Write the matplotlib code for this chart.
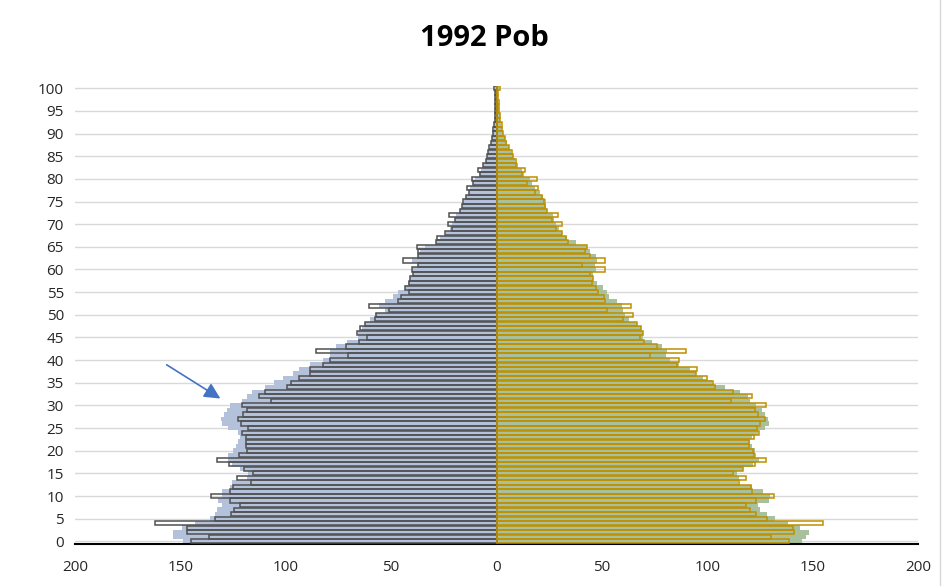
import matplotlib
matplotlib.use("Agg")
import matplotlib.pyplot as plt
import numpy as np

plt.rcParams['font.family'] = ['Open Sans', 'DejaVu Sans']

ages = np.arange(0, 101)

# males, census (outlined bars, left side)
male_census = [
    145.1, 136.3, 147.0, 146.7, 162.0, 133.6, 126.1, 124.6, 121.7, 126.5,
    135.5, 126.5, 124.9, 116.5, 123.3, 115.7, 119.8, 126.8, 132.8, 122.0,
    118.5, 118.9, 118.9, 118.9, 120.9, 118.1, 121.4, 122.5, 120.4, 118.5,
    120.9, 107.2, 112.5, 109.8, 99.6, 97.5, 93.6, 88.5, 88.5, 82.5,
    79.0, 70.6, 85.6, 71.6, 65.4, 61.3, 66.3, 64.8, 62.4, 57.7,
    57.2, 51.0, 60.5, 46.9, 45.5, 41.4, 43.4, 41.4, 41.0, 39.5,
    40.2, 37.1, 44.5, 37.1, 37.1, 37.6, 28.7, 28.4, 24.4, 21.3,
    22.9, 19.8, 22.4, 17.4, 16.6, 16.1, 14.5, 12.9, 13.8, 11.0,
    11.8, 7.8, 8.6, 6.2, 5.0, 4.7, 3.9, 3.4, 2.8, 2.3,
    1.8, 1.5, 1.2, 0.8, 0.8, 0.7, 0.7, 0.7, 0.7, 0.7,
    1.2,
]

# males, estimate (filled bars, left side)
male_est = [
    148.6, 153.6, 153.6, 149.4, 143.1, 135.9, 133.6, 132.8, 130.4, 132.0,
    130.4, 130.4, 126.5, 125.7, 118.5, 117.8, 121.7, 125.7, 127.2, 127.2,
    124.9, 123.6, 122.5, 121.7, 122.5, 127.2, 130.4, 130.9, 129.3, 128.0,
    126.5, 120.9, 118.5, 116.2, 109.8, 105.6, 101.4, 96.4, 93.6, 88.5,
    82.2, 79.0, 79.0, 76.1, 71.0, 65.6, 65.6, 64.0, 62.4, 60.0,
    57.7, 52.9, 55.6, 52.9, 49.0, 46.6, 43.4, 41.8, 41.0, 39.5,
    40.2, 37.1, 40.2, 37.1, 36.3, 33.9, 28.7, 27.0, 24.0, 22.0,
    21.0, 19.5, 19.0, 17.4, 16.2, 15.5, 14.5, 13.0, 12.5, 11.0,
    10.0, 8.5, 7.5, 6.2, 5.2, 4.5, 3.9, 3.3, 2.7, 2.2,
    1.8, 1.4, 1.1, 0.9, 0.8, 0.6, 0.6, 0.6, 0.6, 0.6,
    0.8,
]

# females, census (outlined bars, right side)
female_census = [
    138.8, 130.1, 141.2, 140.8, 154.8, 128.5, 123.1, 120.3, 118.4, 123.1,
    131.8, 121.1, 120.8, 115.2, 118.2, 112.1, 116.8, 122.7, 127.7, 122.2,
    121.9, 120.0, 119.8, 122.2, 124.7, 123.8, 125.0, 127.4, 124.2, 122.7,
    127.9, 111.1, 121.1, 112.4, 103.7, 102.9, 99.7, 94.6, 94.9, 85.5,
    86.8, 72.8, 89.9, 76.0, 70.0, 68.1, 69.4, 68.4, 66.5, 60.2,
    64.6, 52.3, 63.7, 51.5, 51.1, 48.3, 47.2, 45.2, 45.9, 44.4,
    51.5, 40.4, 51.5, 44.4, 42.0, 42.8, 34.1, 33.0, 30.9, 28.2,
    30.9, 26.2, 29.3, 23.8, 23.0, 22.5, 21.4, 18.3, 19.9, 14.6,
    19.1, 11.9, 13.5, 9.3, 9.3, 8.0, 7.4, 6.1, 4.5, 4.0,
    3.2, 2.5, 2.5, 1.7, 1.7, 1.2, 1.0, 1.0, 0.9, 0.9,
    1.7,
]

# females, estimate (filled bars, right side)
female_est = [
    144.8, 146.9, 148.4, 144.0, 138.5, 132.1, 128.2, 125.0, 124.2, 129.5,
    129.8, 126.6, 121.1, 114.7, 115.2, 114.0, 116.8, 121.6, 124.7, 123.1,
    122.7, 121.1, 120.3, 121.1, 124.2, 127.4, 129.5, 129.0, 127.4, 125.8,
    123.1, 120.3, 119.5, 115.5, 108.4, 102.1, 98.1, 94.6, 91.8, 86.8,
    82.3, 80.4, 80.7, 78.4, 73.6, 69.5, 69.4, 68.4, 66.5, 63.0,
    61.0, 59.9, 59.4, 57.0, 53.5, 52.3, 50.7, 47.5, 45.9, 45.9,
    47.2, 46.7, 47.5, 47.2, 44.4, 42.8, 37.7, 33.5, 30.9, 29.5,
    28.0, 27.5, 27.0, 23.8, 23.5, 23.5, 22.0, 20.5, 18.3, 17.0,
    16.0, 13.0, 12.0, 10.0, 9.0, 8.0, 7.0, 6.0, 4.8, 4.0,
    3.2, 2.5, 2.2, 1.7, 1.5, 1.2, 1.0, 0.9, 0.8, 0.8,
    1.2,
]

x_ticks = [-200, -150, -100, -50, 0, 50, 100, 150, 200]
y_ticks = list(range(0, 101, 5))

fig = plt.figure(figsize=(9.44, 5.86), dpi=100)
ax = fig.add_axes([75 / 944, 1 - 543.6 / 586, 843 / 944, 457.6 / 586])

# filled bars first, outlines on top
ax.barh(ages, -np.array(male_est), height=1.0, color='#B4C1DA', zorder=2)
ax.barh(ages, female_est, height=1.0, color='#A8C09B', zorder=2)
ax.barh(ages, -np.array(male_census), height=0.92, facecolor='none',
        edgecolor='#505050', linewidth=1.1, zorder=3)
ax.barh(ages, female_census, height=0.92, facecolor='none',
        edgecolor='#BF9000', linewidth=1.1, zorder=4)

ax.set_xlim(-200, 200)
ax.set_ylim(-0.5, 100.5)
ax.set_xticks(x_ticks)
ax.set_xticklabels([str(abs(t)) for t in x_ticks], fontsize=11, color='#262626')
ax.set_yticks(y_ticks)
ax.set_yticklabels([str(t) for t in y_ticks], fontsize=11, color='#262626')
ax.tick_params(axis='both', length=0)
ax.tick_params(axis='y', pad=8)
ax.tick_params(axis='x', pad=12)

ax.grid(axis='y', color='#D9D9D9', linewidth=1)
ax.grid(axis='x', visible=False)
ax.set_axisbelow(True)
for side in ['top', 'right', 'left']:
    ax.spines[side].set_visible(False)
ax.spines['bottom'].set_linewidth(1.5)
ax.spines['bottom'].set_color('black')

fig.text(484 / 944, 1 - 38 / 586, '1992 Pob', ha='center', va='center',
         fontsize=21, fontweight='bold')

ax.annotate('', xy=(222.7 / 944, 1 - 400 / 586), xytext=(164.3 / 944, 1 - 363.3 / 586),
            xycoords='figure fraction', textcoords='figure fraction',
            arrowprops=dict(arrowstyle='-|>', color='#4472C4', lw=1.2,
                            mutation_scale=24))

# chart-area border visible at the right edge
fig.add_artist(plt.Line2D([940 / 944, 940 / 944], [0, 1], transform=fig.transFigure,
                          color='#D9D9D9', linewidth=1))

fig.savefig('out.png', dpi=100)
